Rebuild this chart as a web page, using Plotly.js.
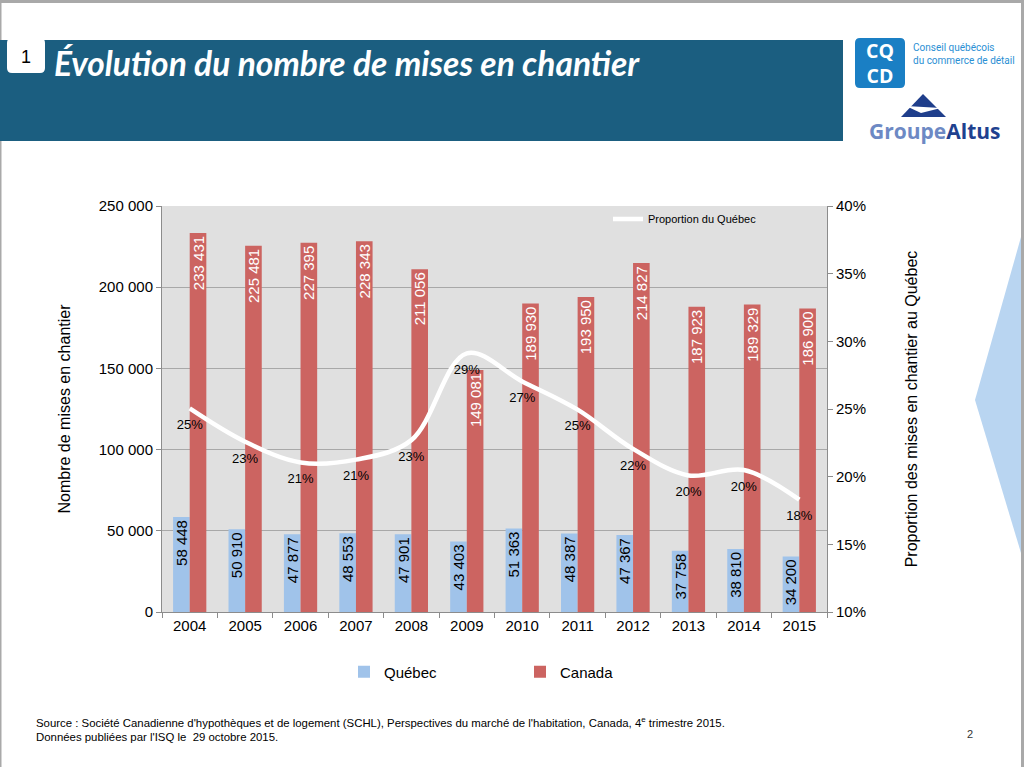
<!DOCTYPE html>
<html>
<head>
<meta charset="utf-8">
<script src="https://cdn.plot.ly/plotly-3.0.1.min.js"></script>
<style>
  html, body { margin: 0; padding: 0; background: #fff; }
  #chart { width: 1024px; height: 767px; }
</style>
</head>
<body>
<div id="chart"></div>
<script>
// ---- data ----
const years = ['2004','2005','2006','2007','2008','2009','2010','2011','2012','2013','2014','2015'];
const quebec = [58448, 50910, 47877, 48553, 47901, 43403, 51363, 48387, 47367, 37758, 38810, 34200];
const canada = [233431, 225481, 227395, 228343, 211056, 149081, 189930, 193950, 214827, 187923, 189329, 186900];
const proportion = [0.2504, 0.2258, 0.2105, 0.2126, 0.2270, 0.2911, 0.2704, 0.2495, 0.2205, 0.2009, 0.2049, 0.1830];
const seriesNames = ['Québec', 'Canada', 'Proportion du Québec'];

// ---- helpers (pixel -> paper) ----
const L = 162, R = 827, T = 206, B = 612;
const X = px => (px - L) / (R - L);
const Y = py => (B - py) / (B - T);
const fmt = v => String(v).replace(/\B(?=(\d{3})+(?!\d))/g, ' ');
const pct = p => Math.round(p * 100) + '%';
const FONT = 'Liberation Sans, Arial, sans-serif';

const traces = [
  {
    type: 'bar', name: seriesNames[0], x: years, y: quebec,
    marker: { color: '#a0c3ea' },
    text: quebec.map(fmt), textposition: 'inside', insidetextanchor: 'end',
    textangle: -90, constraintext: 'none',
    textfont: { family: FONT, size: 15, color: '#000' },
    hoverinfo: 'skip', legend: 'legend', showlegend: true
  },
  {
    type: 'bar', name: seriesNames[1], x: years, y: canada,
    marker: { color: '#cc6461' },
    text: canada.map(fmt), textposition: 'inside', insidetextanchor: 'end',
    textangle: -90, constraintext: 'none',
    textfont: { family: FONT, size: 15, color: '#fff' },
    hoverinfo: 'skip', legend: 'legend3', showlegend: true
  },
  {
    type: 'scatter', name: seriesNames[2], x: years, y: proportion, yaxis: 'y2',
    mode: 'lines+markers+text',
    line: { color: '#ffffff', width: 4.5, shape: 'spline', smoothing: 1 },
    marker: { size: 16, color: 'rgba(0,0,0,0)' },
    text: proportion.map(pct), textposition: 'bottom center',
    textfont: { family: FONT, size: 13, color: '#000' },
    cliponaxis: false, hoverinfo: 'skip', legend: 'legend2', showlegend: true
  }
];

function rr(x0, y0, x1, y1, r) {
  return 'M' + X(x0 + r) + ',' + Y(y0) +
    ' L' + X(x1 - r) + ',' + Y(y0) + ' Q' + X(x1) + ',' + Y(y0) + ' ' + X(x1) + ',' + Y(y0 + r) +
    ' L' + X(x1) + ',' + Y(y1 - r) + ' Q' + X(x1) + ',' + Y(y1) + ' ' + X(x1 - r) + ',' + Y(y1) +
    ' L' + X(x0 + r) + ',' + Y(y1) + ' Q' + X(x0) + ',' + Y(y1) + ' ' + X(x0) + ',' + Y(y1 - r) +
    ' L' + X(x0) + ',' + Y(y0 + r) + ' Q' + X(x0) + ',' + Y(y0) + ' ' + X(x0 + r) + ',' + Y(y0) + ' Z';
}
function poly(pts) {
  return 'M' + pts.map(p => X(p[0]) + ',' + Y(p[1])).join(' L') + ' Z';
}
const rect = (x0, y0, x1, y1, color) => ({
  type: 'rect', xref: 'paper', yref: 'paper', layer: 'below',
  x0: X(x0), x1: X(x1), y0: Y(y1), y1: Y(y0),
  fillcolor: color, line: { width: 0 }
});
const path = (d, color) => ({
  type: 'path', xref: 'paper', yref: 'paper', path: d,
  fillcolor: color, line: { width: 0 }
});

const shapes = [
  rect(0, 0, 1024, 3, '#a9a9a9'),
  rect(0, 0, 1.5, 767, '#a9a9a9'),
  rect(1021, 0, 1024, 767, '#a9a9a9'),
  rect(0, 40, 843, 141, '#1b5e80'),
  path(rr(7, 38, 45, 73, 5), '#ffffff'),
  path(rr(855, 38, 905, 88, 5), '#1a7fc4'),
  path(poly([[923, 94], [946, 117], [901, 117]]), '#1f3e8b'),
  path(poly([[906, 106], [941, 108], [921, 113]]), '#ffffff'),
  path(poly([[1021, 237], [975, 400], [1021, 553]]), '#b9d5f1')
];

const ann = (px, py, text, font, xanchor, extra) => Object.assign({
  xref: 'paper', yref: 'paper', x: X(px), y: Y(py), text: text,
  showarrow: false, xanchor: xanchor || 'center', yanchor: 'middle',
  font: font, align: 'left'
}, extra || {});

const annotations = [
  ann(26, 57, '1', { family: FONT, size: 18, color: '#000' }),
  ann(52, 63, '<b><i>Évolution du nombre de mises en chantier</i></b>',
      { family: 'Lato, Open Sans, sans-serif', size: 33.5, color: '#ffffff' }, 'left'),
  ann(880, 63, '<b>CQ<br>CD</b>', { family: 'Open Sans, sans-serif', size: 19.5, color: '#ffffff' }, 'center', { align: 'center' }),
  ann(911, 48, 'Conseil québécois', { family: 'Roboto, sans-serif', size: 10, color: '#2a8fd4' }, 'left'),
  ann(911, 61, 'du commerce de détail', { family: 'Roboto, sans-serif', size: 10, color: '#2a8fd4' }, 'left'),
  ann(935, 131, '<b><span style="color:#6d89c4">Groupe</span>Altus</b>',
      { family: 'Open Sans, sans-serif', size: 21, color: '#1f418f' }),
  ann(34, 722, 'Source : Société Canadienne d\'hypothèques et de logement (SCHL), Perspectives du marché de l\'habitation, Canada, 4<sup>e</sup> trimestre 2015.',
      { family: FONT, size: 11.4, color: '#000' }, 'left'),
  ann(34, 737, 'Données publiées par l\'ISQ le  29 octobre 2015.',
      { family: FONT, size: 11.4, color: '#000' }, 'left'),
  ann(970, 734, '2', { family: FONT, size: 11, color: '#333' })
];

const axisCommon = {
  showline: true, linecolor: '#8c8c8c', linewidth: 1,
  ticks: 'outside', ticklen: 5, tickcolor: '#8c8c8c',
  tickfont: { family: FONT, size: 15, color: '#000' },
  zeroline: false
};

const layout = {
  width: 1024, height: 767,
  margin: { l: L, r: 1024 - R, t: T, b: 767 - B, pad: 0 },
  paper_bgcolor: '#ffffff', plot_bgcolor: '#e0e0e0',
  separators: ', ',
  showlegend: true,
  barmode: 'group', bargap: 0.4, bargroupgap: 0,
  font: { family: FONT, color: '#000' },
  xaxis: Object.assign({}, axisCommon, {
    type: 'category', tickson: 'boundaries', showgrid: false,
    range: [-0.5, 11.5], autorange: false,
    tickfont: { family: FONT, size: 15, color: '#000' }
  }),
  yaxis: Object.assign({}, axisCommon, {
    range: [0, 250000], dtick: 50000, tickformat: ',d',
    showgrid: true, gridcolor: '#a8a8a8', gridwidth: 1,
    title: { text: 'Nombre de mises en chantier', font: { family: FONT, size: 16, color: '#000' }, standoff: 24 }
  }),
  yaxis2: Object.assign({}, axisCommon, {
    overlaying: 'y', side: 'right', range: [0.10, 0.40], dtick: 0.05, tickformat: '.0%',
    showgrid: false,
    title: { text: 'Proportion des mises en chantier au Québec', font: { family: FONT, size: 16, color: '#000' }, standoff: 40 }
  }),
  legend: {
    orientation: 'h', x: X(344), y: Y(672), xanchor: 'left', yanchor: 'middle',
    bgcolor: 'rgba(0,0,0,0)', font: { family: FONT, size: 15, color: '#000' }
  },
  legend3: {
    orientation: 'h', x: X(520), y: Y(672), xanchor: 'left', yanchor: 'middle',
    bgcolor: 'rgba(0,0,0,0)', font: { family: FONT, size: 15, color: '#000' }
  },
  legend2: {
    x: X(608), y: Y(219), xanchor: 'left', yanchor: 'middle',
    bgcolor: 'rgba(0,0,0,0)', font: { family: FONT, size: 11, color: '#000' }
  },
  shapes: shapes,
  annotations: annotations,
  hovermode: false
};

Plotly.newPlot('chart', traces, layout, { displayModeBar: false, staticPlot: true });
</script>
</body>
</html>
